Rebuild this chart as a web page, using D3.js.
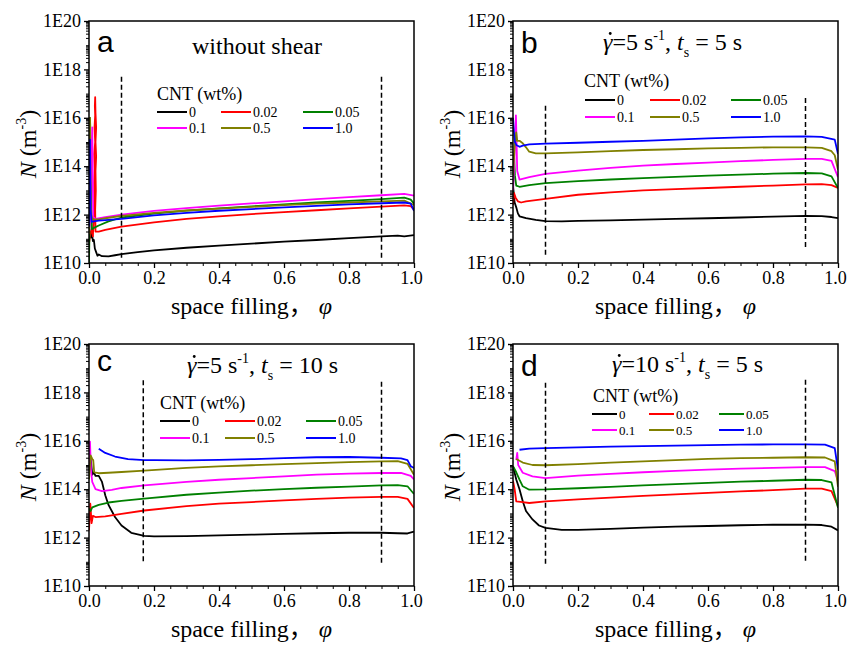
<!DOCTYPE html>
<html>
<head>
<meta charset="utf-8">
<script src="https://d3js.org/d3.v7.min.js"></script>
<style>
  body { margin: 0; background: #fff; }
  svg { display: block; }
  text, .tick text { font-family: "Liberation Serif", "DejaVu Serif", "Noto Serif", "Times New Roman", Times, serif; fill: #000; }
  .sans { font-family: "Liberation Sans", Arial, "DejaVu Sans", sans-serif; }
  .cjk { font-family: "Noto Sans CJK SC", sans-serif; }
</style>
</head>
<body>
<svg id="chart" width="848" height="645"></svg>
<script>
// CNT loadings and their line colours
const cntLabels = ["0", "0.02", "0.05", "0.1", "0.5", "1.0"];
const cntColors = ["#000000", "#ff0000", "#008000", "#ff00ff", "#808000", "#0000ff"];
const yTickExps = [10, 12, 14, 16, 18, 20];
const xTickVals = [0, 0.2, 0.4, 0.6, 0.8, 1.0];

// Each series: [space filling phi, log10 N (m^-3)]
// (a) without shear
const aN0 = [[0,11.0],[0.003,11.3],[0.006,11.05],[0.009,11.25],[0.012,10.9],[0.015,10.95],[0.018,10.6],[0.022,10.45],[0.026,10.3],[0.03,10.35],[0.04,10.28],[0.06,10.27],[0.08,10.32],[0.1,10.37],[0.15,10.45],[0.2,10.52],[0.3,10.63],[0.4,10.72],[0.5,10.8],[0.6,10.88],[0.7,10.95],[0.8,11.03],[0.9,11.1],[0.95,11.13],[0.97,11.1],[1.0,11.15]];
const aN1 = [[0,10.8],[0.004,11.2],[0.008,11.4],[0.012,11.1],[0.015,12.0],[0.017,12.6],[0.016,13.3],[0.018,13.9],[0.016,14.5],[0.019,15.0],[0.017,15.6],[0.019,16.1],[0.018,16.5],[0.019,16.85],[0.02,16.2],[0.022,15.6],[0.02,15.0],[0.022,14.4],[0.02,13.8],[0.021,13.0],[0.019,12.2],[0.02,11.3],[0.03,11.3],[0.05,11.37],[0.1,11.5],[0.2,11.68],[0.3,11.82],[0.4,11.93],[0.5,12.02],[0.6,12.1],[0.7,12.18],[0.8,12.26],[0.9,12.33],[0.97,12.38],[0.99,12.35],[1.0,12.2]];
const aN2 = [[0,10.0],[0.001,10.8],[0.002,11.8],[0.001,12.8],[0.003,13.8],[0.002,14.8],[0.004,15.6],[0.003,16.0],[0.005,15.0],[0.006,13.5],[0.007,12.2],[0.009,11.4],[0.015,11.45],[0.03,11.55],[0.06,11.72],[0.1,11.88],[0.2,12.04],[0.3,12.16],[0.4,12.26],[0.5,12.34],[0.6,12.42],[0.7,12.5],[0.8,12.57],[0.9,12.64],[0.97,12.7],[0.99,12.62],[1.0,12.45]];
const aN3 = [[0,11.2],[0.003,11.8],[0.005,12.8],[0.007,13.8],[0.009,14.8],[0.01,15.6],[0.011,14.5],[0.012,13.0],[0.013,11.9],[0.02,11.82],[0.05,11.9],[0.1,12.0],[0.2,12.15],[0.3,12.27],[0.4,12.37],[0.5,12.46],[0.6,12.55],[0.7,12.64],[0.8,12.72],[0.9,12.8],[0.97,12.86],[1.0,12.78]];
const aN4 = [[0,11.2],[0.001,12.5],[0.002,14.0],[0.002,15.2],[0.003,16.0],[0.004,14.5],[0.005,13.0],[0.007,12.0],[0.01,11.8],[0.03,11.8],[0.06,11.87],[0.1,11.95],[0.2,12.07],[0.3,12.17],[0.4,12.25],[0.5,12.32],[0.6,12.39],[0.7,12.45],[0.8,12.5],[0.9,12.55],[0.97,12.58],[1.0,12.4]];
const aN5 = [[0,11.5],[0.001,13.0],[0.002,14.5],[0.003,15.1],[0.004,13.5],[0.005,12.2],[0.008,11.7],[0.015,11.72],[0.03,11.75],[0.06,11.78],[0.1,11.82],[0.2,11.97],[0.3,12.07],[0.4,12.16],[0.5,12.23],[0.6,12.3],[0.7,12.36],[0.8,12.42],[0.9,12.47],[0.97,12.5],[0.99,12.45],[1.0,12.15]];

// (b) shear rate 5 s^-1, shear time 5 s
const bN0 = [[0,13.2],[0.005,12.5],[0.01,12.3],[0.015,12.05],[0.02,11.93],[0.04,11.85],[0.07,11.78],[0.1,11.73],[0.15,11.72],[0.2,11.74],[0.3,11.76],[0.4,11.79],[0.5,11.82],[0.6,11.85],[0.7,11.88],[0.8,11.92],[0.9,11.95],[0.95,11.94],[0.98,11.9],[1.0,11.85]];
const bN1 = [[0,12.4],[0.003,12.9],[0.008,12.7],[0.015,12.55],[0.025,12.5],[0.04,12.55],[0.07,12.6],[0.1,12.65],[0.2,12.82],[0.3,12.92],[0.4,13.0],[0.5,13.05],[0.6,13.1],[0.7,13.15],[0.8,13.2],[0.9,13.25],[0.95,13.26],[0.98,13.22],[1.0,13.1]];
const bN2 = [[0,12.9],[0.003,14.5],[0.006,13.6],[0.01,13.2],[0.02,13.15],[0.05,13.22],[0.1,13.3],[0.2,13.38],[0.3,13.45],[0.4,13.51],[0.5,13.56],[0.6,13.61],[0.7,13.65],[0.8,13.69],[0.9,13.72],[0.95,13.7],[0.98,13.58],[1.0,13.1]];
const bN3 = [[0,13.0],[0.004,14.2],[0.007,15.3],[0.009,16.1],[0.011,15.0],[0.013,13.8],[0.02,13.45],[0.05,13.55],[0.1,13.68],[0.2,13.82],[0.3,13.93],[0.4,14.02],[0.5,14.09],[0.6,14.15],[0.7,14.21],[0.8,14.26],[0.9,14.3],[0.95,14.3],[0.98,14.22],[1.0,13.55]];
const bN4 = [[0,13.6],[0.005,14.8],[0.01,15.4],[0.013,15.05],[0.02,15.05],[0.03,14.95],[0.04,14.78],[0.05,14.6],[0.07,14.53],[0.1,14.53],[0.2,14.57],[0.3,14.62],[0.4,14.67],[0.5,14.7],[0.6,14.74],[0.7,14.76],[0.8,14.78],[0.9,14.78],[0.95,14.76],[0.98,14.62],[0.99,14.45],[1.0,13.85]];
const bN5 = [[0,16.0],[0.003,15.4],[0.006,15.0],[0.01,14.88],[0.02,14.8],[0.03,14.85],[0.05,14.9],[0.1,14.93],[0.2,14.97],[0.3,15.01],[0.4,15.05],[0.5,15.1],[0.6,15.15],[0.7,15.19],[0.8,15.22],[0.9,15.23],[0.95,15.21],[0.99,15.1],[1.0,14.5]];

// (c) shear rate 5 s^-1, shear time 10 s
const cN0 = [[0,14.9],[0.005,15.3],[0.01,14.6],[0.015,14.7],[0.02,14.55],[0.03,14.55],[0.04,14.3],[0.05,13.75],[0.06,13.35],[0.08,12.85],[0.1,12.5],[0.13,12.2],[0.17,12.07],[0.2,12.05],[0.3,12.06],[0.4,12.09],[0.5,12.12],[0.6,12.15],[0.7,12.18],[0.8,12.2],[0.9,12.2],[0.95,12.18],[0.98,12.17],[1.0,12.25]];
const cN1 = [[0,12.3],[0.004,13.4],[0.008,12.6],[0.012,12.9],[0.02,12.85],[0.05,12.88],[0.1,12.98],[0.17,13.12],[0.3,13.3],[0.4,13.4],[0.5,13.47],[0.6,13.54],[0.7,13.6],[0.8,13.65],[0.9,13.68],[0.95,13.68],[0.98,13.6],[1.0,13.22]];
const cN2 = [[0,13.2],[0.005,13.1],[0.01,13.25],[0.03,13.35],[0.06,13.45],[0.1,13.52],[0.17,13.61],[0.3,13.77],[0.4,13.86],[0.5,13.94],[0.6,14.0],[0.7,14.06],[0.8,14.11],[0.9,14.16],[0.95,14.17],[0.98,14.12],[1.0,13.8]];
const cN3 = [[0,14.6],[0.003,15.97],[0.006,14.8],[0.01,14.3],[0.02,14.0],[0.04,13.92],[0.07,13.97],[0.1,14.05],[0.17,14.16],[0.3,14.3],[0.4,14.39],[0.5,14.46],[0.6,14.53],[0.7,14.6],[0.8,14.64],[0.9,14.67],[0.96,14.67],[0.99,14.55],[1.0,14.4]];
const cN4 = [[0,14.4],[0.005,15.4],[0.01,15.25],[0.013,15.2],[0.016,14.7],[0.03,14.66],[0.06,14.68],[0.1,14.71],[0.17,14.77],[0.3,14.88],[0.4,14.94],[0.5,14.99],[0.6,15.04],[0.7,15.08],[0.8,15.12],[0.9,15.15],[0.95,15.16],[0.98,15.05],[1.0,14.6]];
const cN5 = [[0.03,15.67],[0.05,15.5],[0.08,15.35],[0.12,15.24],[0.17,15.2],[0.2,15.2],[0.3,15.19],[0.4,15.21],[0.5,15.24],[0.6,15.28],[0.7,15.32],[0.8,15.33],[0.9,15.3],[0.96,15.27],[0.98,15.2],[0.99,14.95],[1.0,14.88]];

// (d) shear rate 10 s^-1, shear time 5 s
const dN0 = [[0,14.95],[0.01,14.4],[0.02,14.0],[0.03,13.5],[0.04,13.1],[0.06,12.75],[0.08,12.5],[0.1,12.4],[0.15,12.32],[0.2,12.32],[0.3,12.36],[0.4,12.41],[0.5,12.45],[0.6,12.48],[0.7,12.51],[0.8,12.53],[0.9,12.54],[0.95,12.52],[0.98,12.45],[1.0,12.3]];
const dN1 = [[0,14.35],[0.005,14.0],[0.01,13.5],[0.03,13.47],[0.05,13.43],[0.1,13.5],[0.2,13.58],[0.3,13.65],[0.4,13.72],[0.5,13.79],[0.6,13.85],[0.7,13.91],[0.8,13.96],[0.9,14.02],[0.95,14.02],[0.98,13.92],[1.0,13.3]];
const dN2 = [[0,14.95],[0.01,14.7],[0.02,14.4],[0.03,14.12],[0.05,13.98],[0.1,13.99],[0.2,14.04],[0.3,14.1],[0.4,14.16],[0.5,14.21],[0.6,14.26],[0.7,14.31],[0.8,14.35],[0.9,14.39],[0.95,14.38],[0.98,14.28],[1.0,13.23]];
const dN3 = [[0.01,15.2],[0.013,15.5],[0.016,15.0],[0.03,14.68],[0.06,14.53],[0.1,14.46],[0.2,14.56],[0.3,14.63],[0.4,14.7],[0.5,14.76],[0.6,14.81],[0.7,14.85],[0.8,14.88],[0.9,14.91],[0.96,14.91],[0.99,14.75],[1.0,14.33]];
const dN4 = [[0.01,15.25],[0.03,15.1],[0.06,15.0],[0.1,14.99],[0.2,15.04],[0.3,15.1],[0.4,15.15],[0.5,15.2],[0.6,15.25],[0.7,15.28],[0.8,15.3],[0.9,15.32],[0.96,15.31],[0.99,15.15],[1.0,14.1]];
const dN5 = [[0.02,15.63],[0.05,15.68],[0.1,15.7],[0.2,15.73],[0.3,15.76],[0.4,15.78],[0.5,15.8],[0.6,15.82],[0.7,15.84],[0.8,15.85],[0.9,15.85],[0.96,15.84],[0.99,15.7],[1.0,14.8]];

// Region boundaries marked by dashed lines: [phi, log10 N top, log10 N bottom]
const aCuts = [[0.1, 17.7, 10.12], [0.9, 17.7, 10.12]];
const bCuts = [[0.1, 16.5, 10.33], [0.9, 16.82, 10.62]];
const cCuts = [[0.167, 18.5, 10.99], [0.9, 18.44, 10.9]];
const dCuts = [[0.1, 18.4, 10.82], [0.9, 18.52, 10.99]];

const W = 325, H = 242;
const svg = d3.select("#chart");

const panels = [
  { letter: "a", left: 89, top: 21, series: [aN0, aN1, aN2, aN3, aN4, aN5], cuts: aCuts, letterY: 31,
    title: { x: 168, y: 33, anchor: "middle", parts: [{ t: "without shear" }] },
    legend: { tx: 68, ty: 79, rows: [91, 107], cols: [68, 132, 214], len: 30, fs: 14 } },
  { letter: "b", left: 513, top: 21, series: [bN0, bN1, bN2, bN3, bN4, bN5], cuts: bCuts, letterY: 32,
    title: { x: 90, y: 29, anchor: "start", parts: [{ t: "γ", it: true, dot: true }, { t: "=5 s" }, { t: "-1", sup: true }, { t: ", " }, { t: "t", it: true }, { t: "s", sub: true }, { t: " = 5 s" }] },
    legend: { tx: 71, ty: 66, rows: [79, 96], cols: [72, 137, 218], len: 30, fs: 14 } },
  { letter: "c", left: 89, top: 344, series: [cN0, cN1, cN2, cN3, cN4, cN5], cuts: cCuts, letterY: 27,
    title: { x: 98, y: 29, anchor: "start", parts: [{ t: "γ", it: true, dot: true }, { t: "=5 s" }, { t: "-1", sup: true }, { t: ", " }, { t: "t", it: true }, { t: "s", sub: true }, { t: " = 10 s" }] },
    legend: { tx: 71, ty: 65, rows: [77, 94], cols: [71, 136, 217], len: 30, fs: 14 } },
  { letter: "d", left: 513, top: 344, series: [dN0, dN1, dN2, dN3, dN4, dN5], cuts: dCuts, letterY: 32,
    title: { x: 99, y: 28, anchor: "start", parts: [{ t: "γ", it: true, dot: true }, { t: "=10 s" }, { t: "-1", sup: true }, { t: ", " }, { t: "t", it: true }, { t: "s", sub: true }, { t: " = 5 s" }] },
    legend: { tx: 80, ty: 58, rows: [70, 86], cols: [79, 136, 206], len: 25, fs: 13 } }
];

const x = d3.scaleLinear().domain([0, 1]).range([0, W]);
const y = d3.scaleLog().domain([1e10, 1e20]).range([H, 0]);
const pow10 = e => Math.pow(10, e);

// log-spaced minor ticks: 2..9 x 10^k and the odd decades
const yMinor = [];
for (let k = 10; k < 20; k++) {
  for (let m = 1; m <= 9; m++) {
    if (m === 1 && k % 2 === 0) continue;
    yMinor.push(m * pow10(k));
  }
}
const xMinor = d3.range(0, 1.0001, 0.05).map(v => +v.toFixed(2)).filter(v => !xTickVals.some(t => Math.abs(t - v) < 1e-6));

const line = d3.line().x(d => x(d[0])).y(d => y(pow10(d[1])));

panels.forEach(p => {
  const g = svg.append("g").attr("transform", `translate(${p.left},${p.top})`);

  // minor ticks
  g.append("g").call(d3.axisLeft(y).tickValues(yMinor).tickSize(3).tickFormat(""))
    .call(s => s.select(".domain").remove())
    .selectAll("line").attr("stroke-width", 1);
  g.append("g").attr("transform", `translate(0,${H})`)
    .call(d3.axisBottom(x).tickValues(xMinor).tickSize(3).tickFormat(""))
    .call(s => s.select(".domain").remove())
    .selectAll("line").attr("stroke-width", 1);

  // major ticks and labels
  const yAx = g.append("g").call(d3.axisLeft(y).tickValues(yTickExps.map(pow10)).tickSize(5).tickPadding(3)
      .tickFormat(d => "1E" + Math.round(Math.log10(d))));
  yAx.select(".domain").remove();
  yAx.attr("font-family", null);
  yAx.selectAll("line").attr("stroke-width", 1.3);
  yAx.selectAll("text").attr("font-size", 18).attr("fill", "#000");

  const xAx = g.append("g").attr("transform", `translate(0,${H})`)
    .call(d3.axisBottom(x).tickValues(xTickVals).tickSize(5).tickPadding(3).tickFormat(d3.format(".1f")));
  xAx.select(".domain").remove();
  xAx.attr("font-family", null);
  xAx.selectAll("line").attr("stroke-width", 1.3);
  xAx.selectAll("text").attr("font-size", 18).attr("fill", "#000")
    .attr("dx", d => (d === 1 ? -3 : 0));

  // curves
  const clipId = "clip-" + p.letter;
  g.append("clipPath").attr("id", clipId).append("rect").attr("width", W).attr("height", H);
  g.append("g").attr("clip-path", `url(#${clipId})`)
    .selectAll("path").data(p.series).join("path")
    .attr("d", line)
    .attr("fill", "none")
    .attr("stroke", (d, i) => cntColors[i])
    .attr("stroke-width", 1.8)
    .attr("stroke-linejoin", "round");

  // dashed region boundaries
  g.selectAll("line.cut").data(p.cuts).join("line").attr("class", "cut")
    .attr("x1", d => x(d[0])).attr("x2", d => x(d[0]))
    .attr("y1", d => y(pow10(d[1]))).attr("y2", d => y(pow10(d[2])))
    .attr("stroke", "#000").attr("stroke-width", 1.5).attr("stroke-dasharray", "5,3");

  // frame
  g.append("rect").attr("width", W).attr("height", H)
    .attr("fill", "none").attr("stroke", "#000").attr("stroke-width", 1.5);

  // panel letter
  g.append("text").attr("class", "sans").attr("x", 8).attr("y", p.letterY)
    .attr("font-size", 30).text(p.letter);

  // panel title
  const tt = g.append("text").attr("x", p.title.x).attr("y", p.title.y)
    .attr("font-size", 24).attr("text-anchor", p.title.anchor);
  let shift = 0;
  p.title.parts.forEach(part => {
    const ts = tt.append("tspan").text(part.t);
    let target = 0;
    if (part.sup) { target = -10; ts.attr("font-size", 14); }
    if (part.sub) { target = 7; ts.attr("font-size", 14); }
    ts.attr("dy", target - shift);
    shift = target;
    if (part.it) ts.attr("font-style", "italic");
  });
  // shear-rate dot over gamma
  const dotPart = p.title.parts.findIndex(q => q.dot);
  if (dotPart >= 0) {
    const node = tt.node();
    const s0 = node.getStartPositionOfChar(0), e0 = node.getEndPositionOfChar(0);
    g.append("circle").attr("cx", (s0.x + e0.x) / 2 + 2.5).attr("cy", p.title.y - 16.5).attr("r", 1.4).attr("fill", "#000");
  }

  // legend
  const L = p.legend;
  g.append("text").attr("x", L.tx).attr("y", L.ty).attr("font-size", 18).text("CNT (wt%)");
  cntLabels.forEach((lab, i) => {
    const cx = L.cols[i % 3], cy = L.rows[Math.floor(i / 3)];
    g.append("line").attr("x1", cx).attr("x2", cx + L.len).attr("y1", cy).attr("y2", cy)
      .attr("stroke", cntColors[i]).attr("stroke-width", 2);
    g.append("text").attr("x", cx + L.len + 2).attr("y", cy).attr("dy", "0.35em")
      .attr("font-size", L.fs).text(lab);
  });

  // axis titles
  const yl = g.append("text").attr("transform", `translate(-61,${H / 2 + 2}) rotate(-90)`)
    .attr("text-anchor", "middle").attr("dy", "0.35em").attr("font-size", 24);
  yl.append("tspan").attr("font-style", "italic").text("N");
  yl.append("tspan").text(" (m");
  yl.append("tspan").attr("font-size", 14).attr("dy", -10).text("-3");
  yl.append("tspan").attr("dy", 10).text(")");

  const xl = g.append("text").attr("x", W / 2).attr("y", H + 51)
    .attr("text-anchor", "middle").attr("font-size", 24);
  xl.append("tspan").text("space filling");
  xl.append("tspan").attr("class", "cjk").attr("lang", "zh-CN").text("，");
  xl.append("tspan").attr("font-style", "italic").text(" φ");
});
</script>
</body>
</html>
